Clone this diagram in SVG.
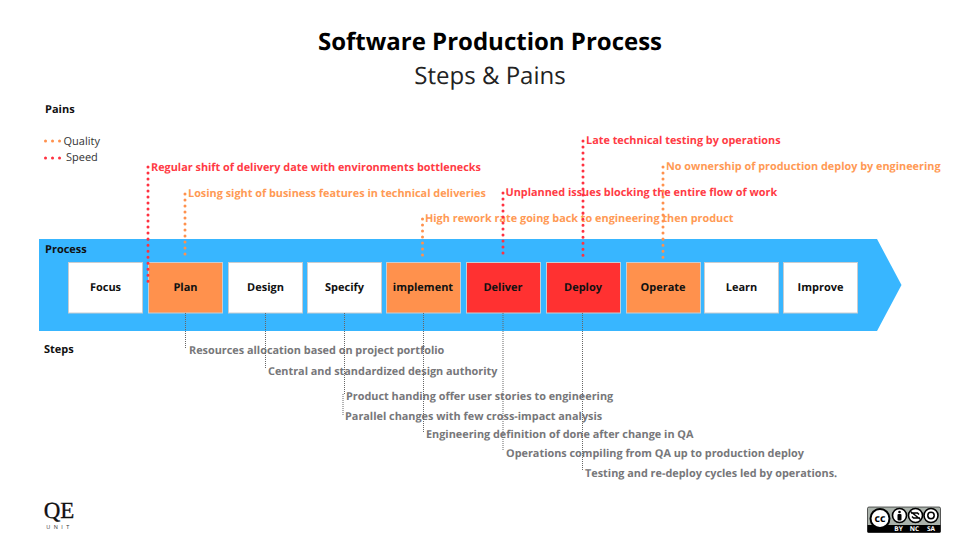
<svg xmlns="http://www.w3.org/2000/svg" width="980" height="551" viewBox="0 0 980 551">
<style>
text{font-family:"Open Sans","Liberation Sans",sans-serif;text-rendering:geometricPrecision}
.b{font-weight:700}
.step{font-size:11px;font-weight:700;fill:#111;text-anchor:middle}
.box{stroke:#c9ccd0;stroke-width:1}
.w{fill:#fff}.o{fill:#ff914d}.r{fill:#ff3131}
.h{font-size:11px;font-weight:700;fill:#111}
.pr{font-size:10.870px;font-weight:700;fill:#ff3b45}
.po{font-size:10.870px;font-weight:700;fill:#ff9a55}
.g{font-size:10.870px;font-weight:700;fill:#77777a}
.ld{fill:none;stroke-width:3;stroke-linecap:round;stroke-dasharray:.01 6}
.lg{fill:none;stroke-width:3;stroke-linecap:round;stroke-dasharray:.01 7}
.lr{stroke:#ff3140}.lo{stroke:#ff914d}
.lk{fill:none;stroke:#666;stroke-width:1;stroke-dasharray:1 1}
</style>
<rect width="980" height="551" fill="#fff"/>
<text x="490" y="50" text-anchor="middle" class="b" font-size="24" fill="#000">Software Production Process</text>
<text x="490" y="83.500" text-anchor="middle" font-size="24" fill="#222">Steps &amp; Pains</text>
<text x="45" y="113" class="h">Pains</text>
<path class="lg lo" d="M45.500 141H60"/>
<path class="lg lr" d="M45.500 158H60"/>
<text x="63.500" y="144.500" font-size="11" fill="#333">Quality</text>
<text x="66" y="160.500" font-size="11" fill="#333">Speed</text>
<g id="process"><path d="M39 239H877L901.500 285L877 331H39Z" fill="#38b6ff"/><text x="45" y="253" class="h">Process</text></g>
<text x="44" y="353" class="h">Steps</text>
<g id="focus"><rect class="box w" x="68.500" y="262.500" width="74" height="50.500"/><text class="step" x="105.500" y="291">Focus</text></g>
<g id="plan"><rect class="box o" x="148.500" y="262.500" width="74" height="50.500"/><text class="step" x="185.500" y="291">Plan</text></g>
<g id="design"><rect class="box w" x="228.500" y="262.500" width="74" height="50.500"/><text class="step" x="265.500" y="291">Design</text></g>
<g id="specify"><rect class="box w" x="307.500" y="262.500" width="74" height="50.500"/><text class="step" x="344.500" y="291">Specify</text></g>
<g id="implement"><rect class="box o" x="386.500" y="262.500" width="74" height="50.500"/><text class="step" x="423" y="291">implement</text></g>
<g id="deliver"><rect class="box r" x="466.500" y="262.500" width="74" height="50.500"/><text class="step" x="503" y="291">Deliver</text></g>
<g id="deploy"><rect class="box r" x="546.500" y="262.500" width="74" height="50.500"/><text class="step" x="583" y="291">Deploy</text></g>
<g id="operate"><rect class="box o" x="626.500" y="262.500" width="74" height="50.500"/><text class="step" x="663" y="291">Operate</text></g>
<g id="learn"><rect class="box w" x="704.500" y="262.500" width="74" height="50.500"/><text class="step" x="741.500" y="291">Learn</text></g>
<g id="improve"><rect class="box w" x="783.500" y="262.500" width="74" height="50.500"/><text class="step" x="820.500" y="291">Improve</text></g>
<g id="pain-labels">
<text class="pr" x="151" y="171">Regular shift of delivery date with environments bottlenecks</text>
<text class="po" x="188" y="197">Losing sight of business features in technical deliveries</text>
<text class="po" x="425" y="222">High rework rate going back to engineering then product</text>
<text class="pr" x="505.500" y="196">Unplanned issues blocking the entire flow of work</text>
<text class="pr" x="586" y="144">Late technical testing by operations</text>
<text class="po" x="666" y="170">No ownership of production deploy by engineering</text>
</g>
<g id="step-labels">
<text class="g" x="189" y="354">Resources allocation based on project portfolio</text>
<text class="g" x="268" y="375">Central and standardized design authority</text>
<text class="g" x="346" y="400">Product handing offer user stories to engineering</text>
<text class="g" x="345" y="420">Parallel changes with few cross-impact analysis</text>
<text class="g" x="426" y="438">Engineering definition of done after change in QA</text>
<text class="g" x="506" y="457">Operations compiling from QA up to production deploy</text>
<text class="g" x="585" y="477">Testing and re-deploy cycles led by operations.</text>
</g>
<g id="connectors">
<path class="ld lr" d="M148 167V284"/>
<path class="ld lo" d="M185 194V256"/>
<path class="ld lo" d="M422.500 219V256"/>
<path class="ld lr" d="M503 193V255"/>
<path class="ld lr" d="M583 141V258"/>
<path class="ld lo" d="M663 167V260"/>
<path class="lk" d="M185.500 313V349"/>
<path class="lk" d="M265.500 313V369"/>
<path class="lk" d="M344.500 313V394M343 394V415"/>
<path class="lk" d="M423.500 313V433"/>
<path class="lk" d="M503 313V451"/>
<path class="lk" d="M582.500 313V471"/>
</g>
<g id="qe-logo"><text x="59" y="518" text-anchor="middle" font-size="23" fill="#111" stroke="#111" stroke-width=".3" style="font-family:'Liberation Serif',serif">QE</text><text x="59.500" y="529" text-anchor="middle" font-size="5.500" letter-spacing="3.500" fill="#333">UNIT</text></g>
<g id="cc-badge">
<rect x="867.500" y="507" width="73" height="25.500" rx="1.500" fill="#aab2ab" stroke="#000" stroke-width=".6"/>
<path d="M867.500 525H940.500V532.500H867.500Z" fill="#000"/>
<circle cx="880" cy="518.500" r="9.500" fill="#fff" stroke="#000" stroke-width="2"/>
<text x="880" y="522" text-anchor="middle" font-size="10.500" class="b" fill="#000">cc</text>
<circle cx="899.500" cy="515.500" r="7" fill="#fff" stroke="#000" stroke-width="1.600"/>
<circle cx="899.500" cy="512" r="1.300"/><rect x="897.500" y="514" width="4" height="6.500" rx="1"/>
<circle cx="915.500" cy="515.500" r="7" fill="#fff" stroke="#000" stroke-width="1.600"/>
<path d="M911 513h6.500l1.500 1.500M920 518h-6.500l-1.500-1.500M910.500 511.500l10 8" fill="none" stroke="#000" stroke-width="1.500"/>
<circle cx="931" cy="515.500" r="7" fill="#fff" stroke="#000" stroke-width="1.600"/>
<circle cx="931" cy="515.500" r="3.200" fill="none" stroke="#000" stroke-width="1.500"/>
<text x="898.500" y="531" text-anchor="middle" font-size="6.500" class="b" fill="#fff">BY</text>
<text x="914.500" y="531" text-anchor="middle" font-size="6.500" class="b" fill="#fff">NC</text>
<text x="931" y="531" text-anchor="middle" font-size="6.500" class="b" fill="#fff">SA</text>
</g>
</svg>
